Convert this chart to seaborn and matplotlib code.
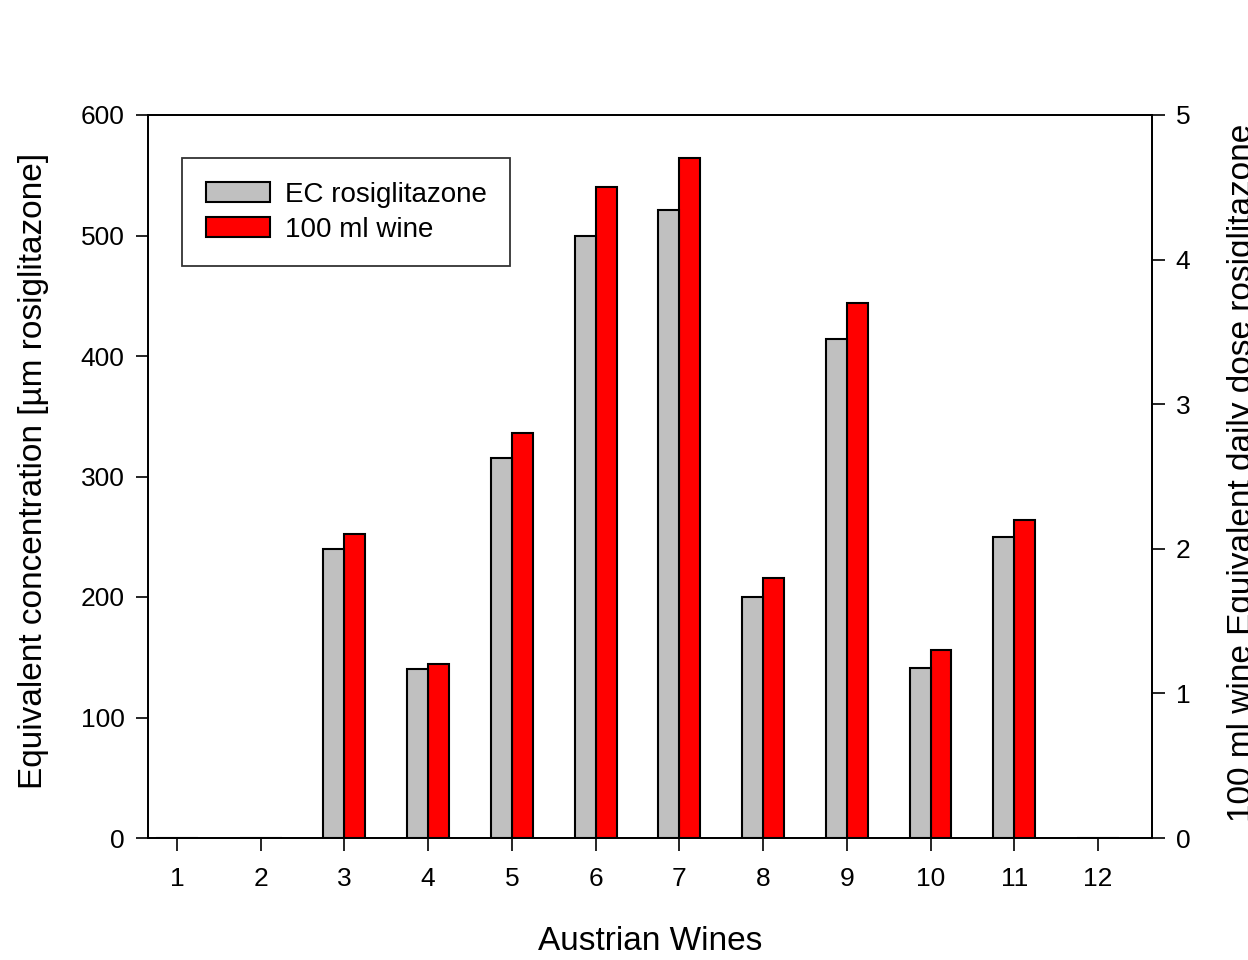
import numpy as np
import pandas as pd
import matplotlib
matplotlib.use("Agg")
import matplotlib.pyplot as plt
from matplotlib.patches import Patch
import seaborn as sns

wines = [1, 2, 3, 4, 5, 6, 7, 8, 9, 10, 11, 12]
ec_rosiglitazone = [0, 0, 240, 140, 315, 500, 521, 200, 414, 141, 250, 0]
wine_100ml = [0, 0, 2.1, 1.2, 2.8, 4.5, 4.7, 1.8, 3.7, 1.3, 2.2, 0]
series_names = ["EC rosiglitazone", "100 ml wine"]
colors = ["#C0C0C0", "#FF0000"]

sns.set_theme(style="white")
plt.rcParams['font.family'] = ['Liberation Sans', 'DejaVu Sans']
plt.rcParams['text.color'] = 'black'
plt.rcParams['axes.labelcolor'] = 'black'
plt.rcParams['xtick.color'] = 'black'
plt.rcParams['ytick.color'] = 'black'

df_left = pd.DataFrame({
    "wine": wines * 2,
    "series": [series_names[0]] * 12 + [series_names[1]] * 12,
    "value": ec_rosiglitazone + [np.nan] * 12,
})
df_right = pd.DataFrame({
    "wine": wines * 2,
    "series": [series_names[0]] * 12 + [series_names[1]] * 12,
    "value": [np.nan] * 12 + wine_100ml,
})

fig = plt.figure(figsize=(12.48, 9.6), dpi=100)
ax = fig.add_axes([148 / 1248, 1 - 838 / 960, 1004 / 1248, 723 / 960])
ax2 = ax.twinx()

sns.barplot(data=df_left, x="wine", y="value", hue="series", hue_order=series_names,
            palette=colors, saturation=1, width=0.5, dodge=True, edgecolor="black",
            linewidth=1.5, legend=False, ax=ax, errorbar=None)
sns.barplot(data=df_right, x="wine", y="value", hue="series", hue_order=series_names,
            palette=colors, saturation=1, width=0.5, dodge=True, edgecolor="black",
            linewidth=1.5, legend=False, ax=ax2, errorbar=None)

ax.set_xlim(-0.346, 11.645)
ax.set_ylim(0, 600)
ax2.set_ylim(0, 5)
ax.set_yticks([0, 100, 200, 300, 400, 500, 600])
ax2.set_yticks([0, 1, 2, 3, 4, 5])
ax.set_xticks(range(12))
ax.set_xticklabels([str(w) for w in wines])

for a in (ax, ax2):
    for s in a.spines.values():
        s.set_color("black")
        s.set_linewidth(1.3)
    a.grid(False)

ax.tick_params(axis="x", direction="out", length=9, width=1.2, bottom=True, top=False,
               labelsize=19, pad=12, colors="black")
ax.tick_params(axis="y", direction="out", length=9, width=1.2, left=True, right=False,
               labelsize=19, pad=8, colors="black")
ax2.tick_params(axis="y", direction="out", length=9, width=1.2, right=True, left=False,
                labelsize=19, pad=8, colors="black")

ax.set_xlabel("Austrian Wines", fontsize=24, labelpad=25)
ax.set_ylabel("Equivalent concentration [µm rosiglitazone]", fontsize=24)
ax2.set_ylabel("100 ml wine Equivalent daily dose rosiglitazone", fontsize=24)
ax.yaxis.set_label_coords(-0.0986, 0.508)
ax2.yaxis.set_label_coords(1.0747, 0.505)

handles = [Patch(facecolor=c, edgecolor="black", linewidth=1.5) for c in colors]
leg = ax.legend(handles, series_names, loc="upper left", bbox_to_anchor=(0.0339, 0.9405),
                borderaxespad=0, fontsize=20, frameon=True, fancybox=False,
                handlelength=2.3, handleheight=0.72, handletextpad=0.55,
                labelspacing=0.32, borderpad=0.85)
leg.get_frame().set_edgecolor("black")
leg.get_frame().set_linewidth(1.3)
ax.set_zorder(ax2.get_zorder() + 1)
ax.patch.set_visible(False)

fig.savefig("out.png", dpi=100)
